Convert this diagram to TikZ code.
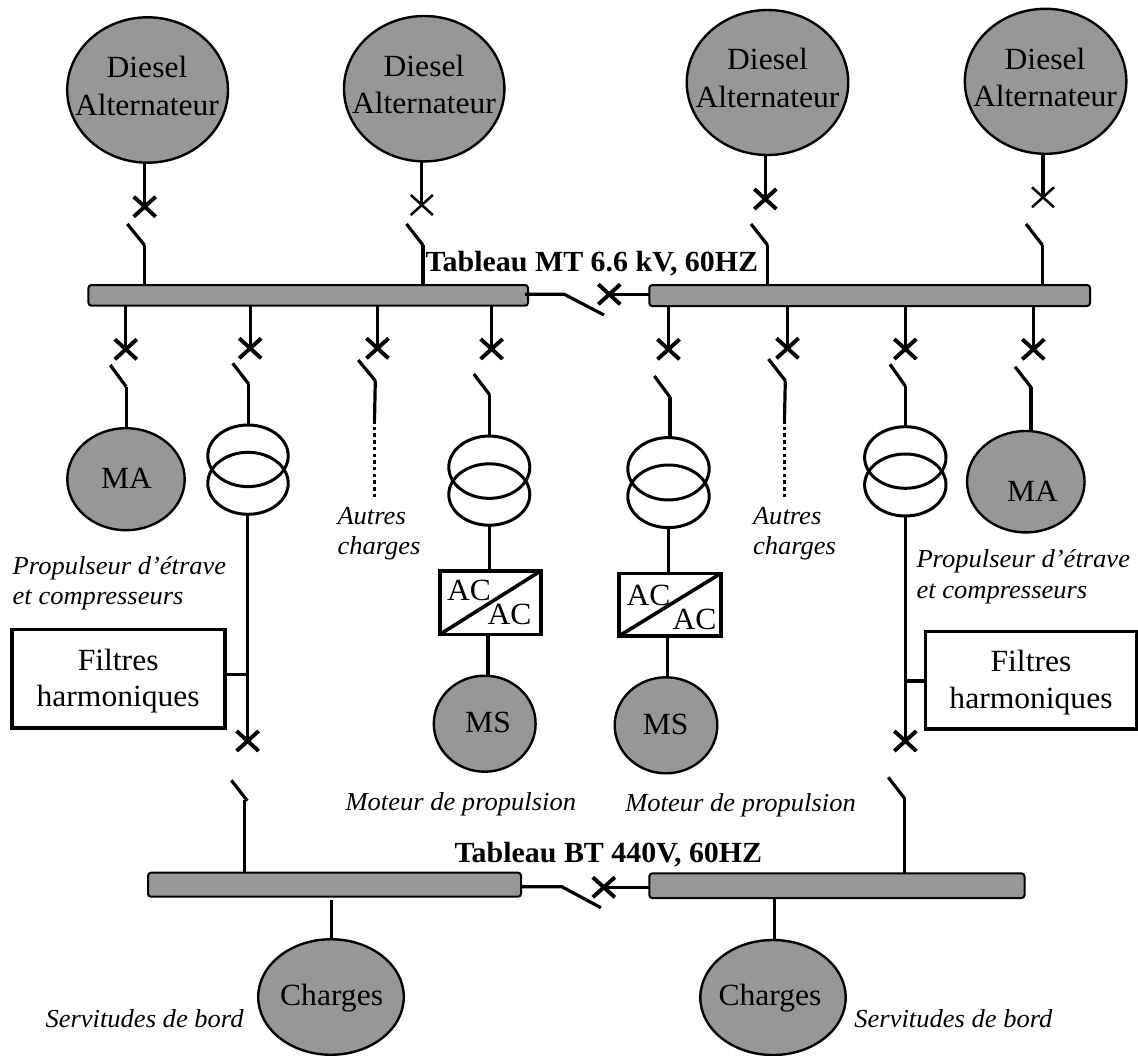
\documentclass[tikz,border=0pt]{standalone}
\usepackage{fontspec}
\usetikzlibrary{shapes.geometric}
\setmainfont{Liberation Serif}[FakeStretch=1.025]
\definecolor{busgrey}{HTML}{979797}
\tikzset{
  wire/.style={line width=3.2pt,line cap=butt,line join=miter},
  dotwire/.style={line width=3.4pt,dash pattern=on 3.5pt off 3.2pt},
  brkthick/.style={line width=3.9pt},
  brkthin/.style={line width=2.5pt},
  machine/.style={ellipse,draw=black,fill=busgrey,line width=2.4pt,inner sep=0pt,outer sep=0pt},
  bus/.style={rectangle,rounded corners=3pt,draw=black,fill=busgrey,line width=2pt,inner sep=0pt,outer sep=0pt},
  coil/.style={ellipse,draw=black,line width=3pt,inner sep=0pt,outer sep=0pt},
  panel/.style={rectangle,draw=black,fill=white,line width=3.6pt,inner sep=0pt,outer sep=0pt},
  lab/.style={inner sep=0pt,outer sep=0pt,anchor=base,font=\fontsize{30.8}{36}\selectfont},
  ital/.style={inner sep=0pt,outer sep=0pt,anchor=base west,font=\fontsize{25.9}{30}\selectfont\itshape},
  head/.style={inner sep=0pt,outer sep=0pt,anchor=base west,font=\fontsize{29.2}{32}\selectfont\bfseries},
}
% breaker: style, name, x, y
\newcommand{\brk}[4][brkthick]{%
  \coordinate (#2) at (#3,#4);
  \draw[#1] ([shift={(-11,-10)}]#2) -- ([shift={(11,10)}]#2);
  \draw[#1] ([shift={(-11,10)}]#2) -- ([shift={(11,-10)}]#2);
}
% switch blade: name, x1, y1, x2, y2
\newcommand{\blade}[5]{%
  \coordinate (#1a) at (#2,#3);
  \coordinate (#1b) at (#4,#5);
  \draw[wire] (#1a) -- (#1b);
}
\begin{document}
\begin{tikzpicture}[x=1pt,y=-1pt]
\useasboundingbox (0,0) rectangle (1138,1055);

% ---- bus bars
\node[bus,minimum width=439.6pt,minimum height=20.7pt] (busA) at (308.2,295.35) {};
\node[bus,minimum width=440.7pt,minimum height=21pt] (busB) at (869.65,295.5) {};
\node[bus,minimum width=373pt,minimum height=24pt] (busC) at (334.5,884.7) {};
\node[bus,minimum width=375.2pt,minimum height=24.7pt] (busD) at (836.9,885.7) {};

% ---- generators
\node[machine,minimum width=160.8pt,minimum height=145.4pt] (dA) at (147.6,90) {};
\node[machine,minimum width=160.4pt,minimum height=145.4pt] (dB) at (424.2,88.7) {};
\node[machine,minimum width=161.5pt,minimum height=145pt] (dC) at (767.5,82.5) {};
\node[machine,minimum width=161.5pt,minimum height=145pt] (dD) at (1045.6,81.3) {};
\node[lab] (dAa) at (147,77) {Diesel};
\node[lab] (dAb) at (147,115) {Alternateur};
\node[lab] (dBa) at (424,76) {Diesel};
\node[lab] (dBb) at (424,113) {Alternateur};
\node[lab] (dCa) at (767.5,69) {Diesel};
\node[lab] (dCb) at (767.5,107) {Alternateur};
\node[lab] (dDa) at (1045,69) {Diesel};
\node[lab] (dDb) at (1045,106) {Alternateur};

\brk{xA}{144.7}{206.7}
\brk[brkthin]{xB}{421.8}{205}
\brk{xC}{765.3}{199}
\brk[brkthin]{xD}{1043}{197.3}
\draw[wire] (xA |- dA.south) -- (xA);
\draw[wire] (xB |- dB.south) -- (xB);
\draw[wire] (xC |- dC.south) -- (xC);
\draw[wire] (xD |- dD.south) -- (xD);
\blade{sA}{127.3}{224}{144.4}{245}
\blade{sB}{406.5}{224}{422.9}{245}
\blade{sC}{751}{224}{767.5}{245}
\blade{sD}{1026}{224}{1042.4}{245}
\draw[wire] (sAb) -- (sAb |- busA.north);
\draw[wire] (sBb) -- (sBb |- busA.north);
\draw[wire] (sCb) -- (sCb |- busB.north);
\draw[wire] (sDb) -- (sDb |- busB.north);

\node[head] (mt) at (425.5,271.7) {Tableau MT 6.6 kV, 60HZ};

% ---- MT tie
\coordinate (tieA) at (525,294.3);
\coordinate (tieB) at (564.3,294.3);
\coordinate (tieC) at (604,315);
\draw[wire] (tieA) -- (tieB) -- (tieC);
\brk{xT}{609.3}{294.3}
\draw[wire] (xT) -- (xT -| busB.west);

% ---- feeders, left
\brk{xa}{125.8}{349.3}
\brk{xb}{250.2}{348.3}
\brk{xc}{377.5}{348.3}
\brk{xd}{491.6}{349}
\draw[wire] (xa |- busA.south) -- (xa);
\draw[wire] (xb |- busA.south) -- (xb);
\draw[wire] (xc |- busA.south) -- (xc);
\draw[wire] (xd |- busA.south) -- (xd);
\blade{sa}{110.2}{365}{126.2}{386.7}
\blade{sb}{232.7}{363.3}{248.7}{384}
\blade{sc}{358.2}{360}{375.3}{380.7}
\blade{sd}{473.8}{374}{489.8}{395}

\node[machine,minimum width=117.4pt,minimum height=102pt] (maA) at (126,479.2) {};
\node[lab] (maAt) at (126.5,488.3) {MA};
\draw[wire] (sab) -- (sab |- maA.north);

\node[coil,minimum width=80.4pt,minimum height=61.6pt] (tbA) at (248,455.8) {};
\node[coil,minimum width=80.4pt,minimum height=62pt] (tbB) at (248,483.3) {};
\draw[wire] (sbb) -- (sbb |- tbA.north);

\coordinate (dotcA) at (374.5,420);
\coordinate (dotcB) at (374.5,497.7);
\draw[wire] (scb) -- (dotcA);
\draw[dotwire] (dotcA) -- (dotcB);
\node[ital] (autA) at (337.5,524) {Autres};
\node[ital] (chaA) at (337.5,554) {charges};

\node[coil,minimum width=81pt,minimum height=62.3pt] (tdA) at (489.3,467.2) {};
\node[coil,minimum width=81pt,minimum height=61.4pt] (tdB) at (489.3,494.5) {};
\draw[wire] (sdb) -- (sdb |- tdA.north);

\node[panel,minimum width=101pt,minimum height=63.6pt] (acA) at (490.5,602.5) {};
\draw[line width=3.6pt] (acA.south west) -- (acA.north east);
\node[lab] (acAa) at (469,600) {AC};
\node[lab] (acAb) at (509.5,624.3) {AC};
\draw[wire] (tdB.south) -- (tdB.south |- acA.north);

\node[machine,minimum width=101.8pt,minimum height=96pt] (msA) at (484.7,723.7) {};
\node[lab] (msAt) at (488,732.3) {MS};
\draw[wire] (488,634.3) coordinate (acAo) -- (acAo |- msA.north);

\node[ital] (propA) at (12.7,574.3) {Propulseur d’étrave};
\node[ital] (compA) at (12.7,604.3) {et compresseurs};
\node[ital] (motA) at (345.5,810) {Moteur de propulsion};

% ---- left LV feeder
\node[panel,minimum width=212.7pt,minimum height=98.4pt] (fA) at (118.35,678.5) {};
\node[lab] (fAa) at (118.2,670) {Filtres};
\node[lab] (fAb) at (118.2,706) {harmoniques};
\brk{xe}{247.6}{741}
\draw[wire] (tbB.south) -- (xe |- tbB.south) -- (xe);
\draw[wire] (fA.east |- 0,674.3) -- (xe |- 0,674.3);
\blade{se}{231.3}{780.3}{247.3}{800.7}
\coordinate (seV) at (244.7,800);
\draw[wire] (seV) -- (seV |- busC.north);

% ---- feeders, right
\brk{xf}{668.5}{349.3}
\brk{xg}{787.5}{348.3}
\brk{xh}{905.3}{349}
\brk{xi}{1033.3}{349.3}
\draw[wire] (xf |- busB.south) -- (xf);
\draw[wire] (xg |- busB.south) -- (xg);
\draw[wire] (xh |- busB.south) -- (xh);
\draw[wire] (xi |- busB.south) -- (xi);
\blade{sf}{654.4}{376}{670}{397.3}
\blade{sg}{768.5}{359}{785.3}{380.7}
\blade{sh}{890}{364.3}{905.3}{386}
\blade{si}{1015}{366.7}{1031}{387.3}

\node[coil,minimum width=81.4pt,minimum height=62.4pt] (tfA) at (668.5,468.8) {};
\node[coil,minimum width=81.4pt,minimum height=62.6pt] (tfB) at (668.5,496.3) {};
\draw[wire] (sfb) -- (sfb |- tfA.north);
\node[panel,minimum width=102pt,minimum height=62.7pt] (acB) at (670,604.65) {};
\draw[line width=3.6pt] (acB.south west) -- (acB.north east);
\node[lab] (acBa) at (648.5,605) {AC};
\node[lab] (acBb) at (694.5,629) {AC};
\draw[wire] (668.2,527.7) coordinate (tfBo) -- (tfBo |- acB.north);
\node[machine,minimum width=102.6pt,minimum height=96pt] (msB) at (666,725.3) {};
\node[lab] (msBt) at (665.7,734.3) {MS};
\draw[wire] (667.5,636) coordinate (acBo) -- (acBo |- msB.north);
\node[ital] (motB) at (625.3,811.7) {Moteur de propulsion};

\coordinate (dotgA) at (784.5,420);
\coordinate (dotgB) at (784.5,496.7);
\draw[wire] (sgb) -- (dotgA);
\draw[dotwire] (dotgA) -- (dotgB);
\node[ital] (autB) at (753,524) {Autres};
\node[ital] (chaB) at (753,554) {charges};

\node[coil,minimum width=81.4pt,minimum height=61.6pt] (thA) at (905.3,457.5) {};
\node[coil,minimum width=81.4pt,minimum height=62pt] (thB) at (905.3,485) {};
\draw[wire] (shb) -- (shb |- thA.north);
\node[panel,minimum width=211pt,minimum height=97.7pt] (fB) at (1031,680.15) {};
\node[lab] (fBa) at (1031,671) {Filtres};
\node[lab] (fBb) at (1031,708.3) {harmoniques};
\brk{xj}{905.3}{741}
\draw[wire] (thB.south) -- (xj);
\draw[wire] (xj |- 0,681) -- (fB.west |- 0,681);
\blade{sj}{888.2}{777.3}{904.5}{798.3}
\draw[wire] (sjb) -- (sjb |- busD.north);

\node[machine,minimum width=117.5pt,minimum height=101.4pt] (maB) at (1025.8,481.7) {};
\node[lab] (maBt) at (1032.5,501) {MA};
\draw[wire] (sib) -- (sib |- maB.north);
\node[ital] (propB) at (916.5,567.7) {Propulseur d’étrave};
\node[ital] (compB) at (916.5,598.3) {et compresseurs};

% ---- LV board
\node[head] (bt) at (454.5,862.7) {Tableau BT 440V, 60HZ};
\coordinate (tiblA) at (521,886.7);
\coordinate (tiblB) at (561.8,886.7);
\coordinate (tiblC) at (600.9,907.7);
\draw[wire] (tiblA) -- (tiblB) -- (tiblC);
\brk{xU}{603.8}{887.3}
\draw[wire] (xU) -- (xU -| busD.west);

\node[machine,minimum width=145.6pt,minimum height=115.5pt] (chA) at (331,997) {};
\node[machine,minimum width=145.4pt,minimum height=115pt] (chB) at (773,997.5) {};
\node[lab] (chAt) at (331.6,1005) {Charges};
\node[lab] (chBt) at (770,1005) {Charges};
\coordinate (chAi) at (331.6,900);
\coordinate (chBi) at (774.7,899);
\draw[wire] (chAi) -- (chAi |- chA.north);
\draw[wire] (chBi) -- (chBi |- chB.north);
\node[ital] (serA) at (45.5,1027.7) {Servitudes de bord};
\node[ital] (serB) at (854.4,1027.7) {Servitudes de bord};
\end{tikzpicture}
\end{document}
